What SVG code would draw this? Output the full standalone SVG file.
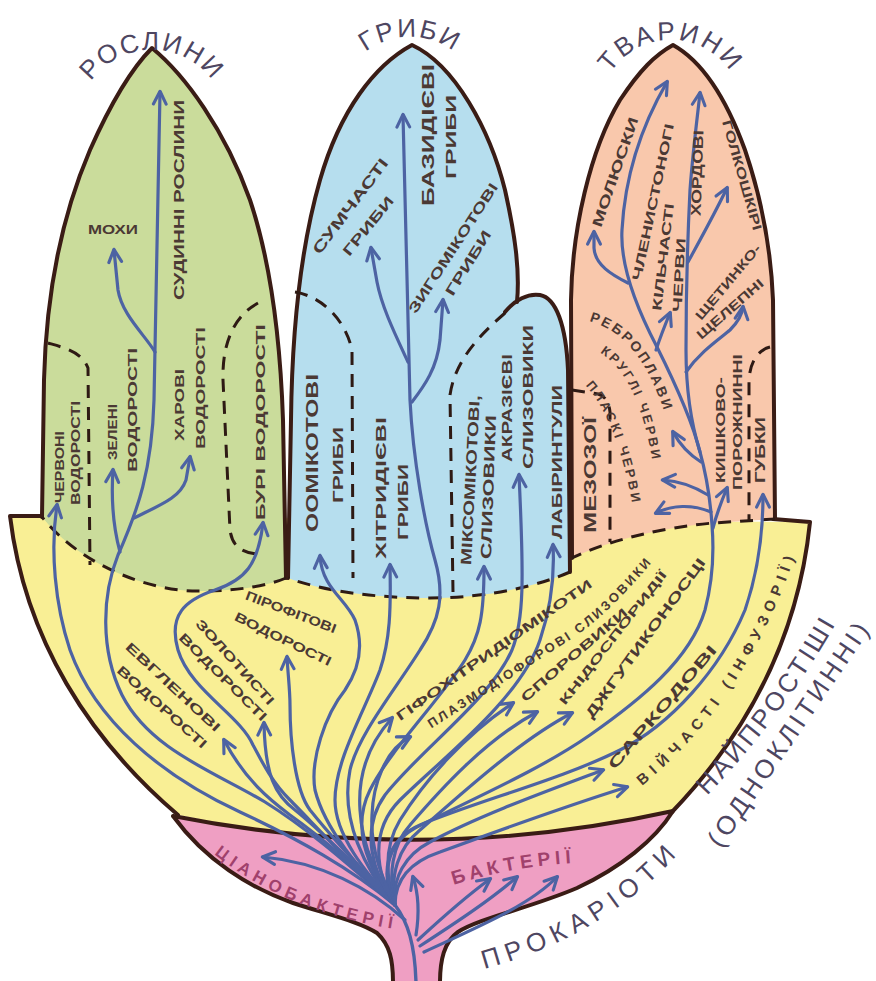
<svg xmlns="http://www.w3.org/2000/svg" width="876" height="981" viewBox="0 0 876 981">
<defs>
<style>
.ol{fill:none;stroke:#3a1c15;stroke-width:4;stroke-linejoin:round;stroke-linecap:round}
.ds{fill:none;stroke:#2e1a14;stroke-width:3;stroke-dasharray:13 9}
.ar{fill:none;stroke:#4d63a3;stroke-width:3.2;stroke-linecap:round;stroke-linejoin:round;marker-end:url(#ah)}
.tr{fill:none;stroke:#4d63a3;stroke-width:3.4;stroke-linecap:round}
.lb{font-family:"Liberation Sans","DejaVu Sans",sans-serif;font-weight:700;fill:#4b3934;text-anchor:middle;dominant-baseline:central}
.ti{font-family:"Liberation Sans","DejaVu Sans",sans-serif;fill:#4e4661;font-size:26px;text-anchor:middle}
.pk{font-family:"Liberation Sans","DejaVu Sans",sans-serif;font-weight:700;fill:#a0416c;text-anchor:middle;dominant-baseline:central}
</style>
<marker id="ah" viewBox="0 0 12 12" refX="10" refY="6" markerWidth="17" markerHeight="17" markerUnits="userSpaceOnUse" orient="auto">
<path d="M1.5,1.5 L10.5,6 L1.5,10.5" fill="none" stroke="#4d63a3" stroke-width="2.2" stroke-linecap="round" stroke-linejoin="round"/>
</marker>
<path id="arcP" d="M77,125 A75,75 0 0 1 227,125"/>
<path id="arcF" d="M337,110 A73,73 0 0 1 483,110"/>
<path id="arcA" d="M599,112 A72,72 0 0 1 743,112"/>
<path id="pPl" d="M418,731 L570,634 Q 612,605 657,548"/>
<path id="pVi" d="M632,786 Q 742,700 793,543"/>
<path id="pNa" d="M688,802 Q 775,716 838,602"/>
<path id="pOd" d="M712,846 L866,620"/>
<path id="pPr" d="M483,960 Q 600,928 673,846"/>
<path id="pCy" d="M220,851 Q 290,906 395,923"/>
<path id="pBa" d="M455,877 Q 510,860 572,856"/>
<path id="pCt" d="M574,314 Q 645,318 674,428"/>
<path id="pRo" d="M588,342 Q 645,360 660,478"/>
<path id="pFl" d="M578,372 Q 622,405 640,520"/>
</defs>

<rect width="876" height="981" fill="#ffffff"/>

<g id="protists-bowl">
<path d="M10,516 L810,522 C 800,620 760,720 672,812 Q 425,866 178,815 C 90,740 25,640 10,516 Z" fill="#f9ef95"/>
<path class="ol" d="M44,516 L10,516 C 25,640 90,740 178,815"/>
<path class="ol" d="M773,519 L810,522 C 800,620 760,720 672,812"/>
</g>

<g id="prokaryotes-base">
<path fill="#ef9fc3" d="M173,816 Q 425,866 673,811 C 655,840 620,868 577,888 C 530,908 480,918 458,932 C 444,942 440,960 440,983 L393,983 C 393,960 390,945 377,933 C 360,922 330,915 293,903 C 250,888 205,860 173,816 Z"/>
<path class="ol" d="M173,816 Q 425,866 673,811 C 655,840 620,868 577,888 C 530,908 480,918 458,932 C 444,942 440,960 440,983 M393,983 C 393,960 390,945 377,933 C 360,922 330,915 293,903 C 250,888 205,860 173,816"/>
</g>

<g id="plants">
<path fill="#cadc9b" d="M42,517 L44,380 C 46,300 60,220 90,150 C 110,105 130,70 152,48 C 185,75 225,130 250,200 C 270,260 280,330 283,420 L286,578 C 270,585 240,591 200,591 C 150,592 80,565 42,517 Z"/>
<path class="ol" d="M42,517 L44,380 C 46,300 60,220 90,150 C 110,105 130,70 152,48 C 185,75 225,130 250,200 C 270,260 280,330 283,420 L286,578"/>
<path class="ds" d="M286,578 C 270,585 240,591 200,591 C 150,592 80,565 42,517"/>
<path class="ds" d="M48,343 C 65,348 82,352 88,368 L90,565"/>
<path class="ds" d="M258,303 C 236,315 222,340 223,380 L230,530 C 232,545 240,552 256,554"/>
<text class="ti"><textPath href="#arcP" startOffset="50%" letter-spacing="2">РОСЛИНИ</textPath></text>
</g>

<g id="fungi">
<path fill="#b6deee" d="M288,578 L291,420 C 292,330 300,250 320,180 C 340,110 375,65 412,45 C 455,65 490,130 505,190 C 515,235 520,270 517,302 C 525,295 532,293 540,295 C 556,298 566,325 568,370 L570,572 C 540,585 490,598 430,598 C 370,598 320,590 288,578 Z"/>
<path class="ol" d="M288,578 L291,420 C 292,330 300,250 320,180 C 340,110 375,65 412,45 C 455,65 490,130 505,190 C 515,235 520,270 517,302"/>
<path class="ol" d="M505,312 C 515,300 528,293 540,295 C 556,298 566,325 568,370 L570,572"/>
<path class="ds" d="M570,572 C 540,585 490,598 430,598 C 370,598 320,590 288,578"/>
<path class="ds" d="M295,292 C 320,296 345,318 352,350 L353,578"/>
<path class="ds" d="M505,313 C 480,335 455,360 450,395 L453,592"/>
<text class="ti"><textPath href="#arcF" startOffset="50%" letter-spacing="2">ГРИБИ</textPath></text>
</g>

<g id="animals">
<path fill="#f9c8ac" d="M572,558 L571,300 C 572,230 590,150 620,100 C 640,70 655,55 673,45 C 700,60 725,95 745,150 C 762,200 771,250 773,300 L775,519 L713,523 C 660,528 610,540 572,558 Z"/>
<path class="ol" d="M572,558 L571,300 C 572,230 590,150 620,100 C 640,70 655,55 673,45 C 700,60 725,95 745,150 C 762,200 771,250 773,300 L775,519"/>
<path class="ds" d="M775,519 L713,523 C 660,528 610,540 572,558"/>
<path class="ds" d="M572,390 L598,394 C 605,396 609,402 610,412 L610,542"/>
<path class="ds" d="M770,347 C 758,350 750,362 749,380 L749,520"/>
<text class="ti"><textPath href="#arcA" startOffset="50%" letter-spacing="3">ТВАРИНИ</textPath></text>
</g>

<g id="connectors">
<path class="tr" d="M416,983 C 415,945 408,922 395,905"/>
<path class="ar" d="M405,920 C 370,888 320,862 263,857"/>
<path class="ar" d="M416,935 C 420,910 418,892 413,877"/>
<path class="ar" d="M418,940 C 445,915 468,895 490,879"/>
<path class="ar" d="M420,946 C 460,920 490,900 517,877"/>
<path class="ar" d="M424,952 C 480,926 530,905 557,877"/>
<path class="ar" d="M395,905 C 350,868 300,840 240,812 C 160,775 95,720 70,650 C 55,605 50,550 57,505"/>
<path class="ar" d="M395,905 C 350,866 310,830 265,802 C 215,772 150,750 122,695 C 100,650 102,595 118,555 C 138,510 152,470 154,400 L160,92"/>
<path class="ar" d="M155,352 C 145,335 122,315 118,290 L114,250"/>
<path class="ar" d="M120,552 C 114,530 111,500 113,470"/>
<path class="ar" d="M134,518 C 160,505 180,498 186,480 L190,457"/>
<path class="ar" d="M395,905 C 352,866 310,820 290,800 C 272,782 262,762 253,745 C 240,715 190,690 178,650 C 168,615 185,600 215,590 C 245,580 258,565 263,523"/>
<path class="ar" d="M395,905 C 355,866 318,835 290,815 C 270,800 245,780 224,740"/>
<path class="ar" d="M395,905 C 355,865 320,830 295,810 C 275,795 265,775 264,723"/>
<path class="ar" d="M395,905 C 360,868 330,835 310,810 C 295,790 290,740 290,705 C 290,690 288,675 287,657"/>
<path class="ar" d="M395,905 C 360,870 325,830 315,790 C 310,760 325,715 345,690 C 362,665 362,640 355,620 C 345,598 322,588 320,556"/>
<path class="ar" d="M395,905 C 365,872 335,835 335,800 C 335,760 365,710 380,670 C 390,640 391,610 390,565"/>
<path class="ar" d="M395,905 C 365,870 340,820 350,770 C 358,735 395,690 420,650 C 440,620 445,595 435,560 C 425,525 413,460 410,400 L403,115"/>
<path class="ar" d="M408,362 C 396,336 382,308 377,282 L371,248"/>
<path class="ar" d="M412,402 C 425,385 437,368 440,340 L443,300"/>
<path class="ar" d="M395,905 C 370,872 350,830 370,790 C 390,750 440,700 465,660 C 480,635 484,615 484,567"/>
<path class="ar" d="M395,905 C 372,872 360,830 385,795 C 420,750 490,700 512,650 C 524,620 524,580 519,475"/>
<path class="ar" d="M395,905 C 375,872 370,830 400,800 C 440,760 520,700 540,640 C 550,610 555,580 553,545"/>
<path class="ar" d="M395,905 C 380,875 385,840 420,825 C 480,800 560,780 620,750 C 670,725 720,670 745,610 C 757,575 763,540 763,495"/>
<path class="ar" d="M395,905 C 382,875 385,845 415,828 C 470,800 540,770 590,735 C 640,700 690,660 705,610 C 713,580 714,550 712,525 C 710,495 705,470 700,452 C 692,420 676,385 657,347 C 635,305 620,265 622,230 C 625,175 642,125 667,82"/>
<path class="ar" d="M628,283 C 612,275 595,265 594,248 L594,232"/>
<path class="ar" d="M656,350 C 660,338 665,325 670,313"/>
<path class="ar" d="M700,452 C 690,420 686,390 686,350 C 686,300 687,250 690,190 C 693,150 697,120 700,93"/>
<path class="ar" d="M688,262 C 700,240 714,215 727,188"/>
<path class="ar" d="M686,372 C 700,352 718,340 730,330 C 738,322 742,315 743,307"/>
<path class="ar" d="M701,462 C 690,455 680,445 673,432"/>
<path class="ar" d="M708,495 C 695,487 680,481 663,480"/>
<path class="ar" d="M711,512 C 692,504 672,505 656,513"/>
<path class="ar" d="M713,528 C 717,512 722,500 727,488"/>
<path class="ar" d="M395,905 C 380,880 362,850 360,810 C 358,780 365,748 392,718"/>
<path class="ar" d="M395,905 C 383,880 370,850 372,815 C 373,785 385,750 410,737"/>
<path class="ar" d="M395,905 C 385,875 385,845 400,820 C 425,780 465,735 513,703"/>
<path class="ar" d="M395,905 C 388,875 392,845 410,825 C 440,790 485,740 537,712"/>
<path class="ar" d="M395,905 C 390,875 398,848 420,830 C 460,795 520,740 572,713"/>
<path class="ar" d="M395,905 C 392,878 405,855 430,842 C 480,815 550,790 603,770"/>
<path class="ar" d="M395,905 C 395,880 410,862 440,852 C 500,830 570,805 627,787"/>
</g>

<g id="n-mosses"><text class="lb" font-size="12" transform="translate(113,230)" textLength="50" lengthAdjust="spacingAndGlyphs">МОХИ</text></g>
<g id="n-vascular"><text class="lb" font-size="14" transform="translate(179,200) rotate(-90)" textLength="200" lengthAdjust="spacingAndGlyphs">СУДИННІ РОСЛИНИ</text></g>
<g id="n-red-algae">
<text class="lb" font-size="12" transform="translate(60,467) rotate(-90)" textLength="72" lengthAdjust="spacingAndGlyphs">ЧЕРВОНІ</text>
<text class="lb" font-size="12" transform="translate(76,453) rotate(-90)" textLength="104" lengthAdjust="spacingAndGlyphs">ВОДОРОСТІ</text>
</g>
<g id="n-green-algae">
<text class="lb" font-size="12" transform="translate(113,432) rotate(-90)" textLength="56" lengthAdjust="spacingAndGlyphs">ЗЕЛЕНІ</text>
<text class="lb" font-size="13" transform="translate(132,410) rotate(-90)" textLength="124" lengthAdjust="spacingAndGlyphs">ВОДОРОСТІ</text>
</g>
<g id="n-charophytes">
<text class="lb" font-size="12" transform="translate(180,405) rotate(-90)" textLength="72" lengthAdjust="spacingAndGlyphs">ХАРОВІ</text>
<text class="lb" font-size="13" transform="translate(200,388) rotate(-90)" textLength="122" lengthAdjust="spacingAndGlyphs">ВОДОРОСТІ</text>
</g>
<g id="n-brown-algae"><text class="lb" font-size="13" transform="translate(260,422) rotate(-90)" textLength="196" lengthAdjust="spacingAndGlyphs">БУРІ ВОДОРОСТІ</text></g>

<g id="n-ascomycetes">
<text class="lb" font-size="15" transform="translate(350,206) rotate(-53)" textLength="115" lengthAdjust="spacingAndGlyphs">СУМЧАСТІ</text>
<text class="lb" font-size="14" transform="translate(368,226) rotate(-51)" textLength="72" lengthAdjust="spacingAndGlyphs">ГРИБИ</text>
</g>
<g id="n-basidiomycetes">
<text class="lb" font-size="16" transform="translate(428,135) rotate(-90)" textLength="142" lengthAdjust="spacingAndGlyphs">БАЗИДІЄВІ</text>
<text class="lb" font-size="15" transform="translate(450,137) rotate(-90)" textLength="84" lengthAdjust="spacingAndGlyphs">ГРИБИ</text>
</g>
<g id="n-zygomycetes">
<text class="lb" font-size="14" transform="translate(453,248) rotate(-57)" textLength="152" lengthAdjust="spacingAndGlyphs">ЗИГОМІКОТОВІ</text>
<text class="lb" font-size="14" transform="translate(468,263) rotate(-58)" textLength="74" lengthAdjust="spacingAndGlyphs">ГРИБИ</text>
</g>
<g id="n-oomycetes">
<text class="lb" font-size="16" transform="translate(312,453) rotate(-90)" textLength="158" lengthAdjust="spacingAndGlyphs">ООМІКОТОВІ</text>
<text class="lb" font-size="15" transform="translate(337,465) rotate(-90)" textLength="76" lengthAdjust="spacingAndGlyphs">ГРИБИ</text>
</g>
<g id="n-chytrids">
<text class="lb" font-size="15" transform="translate(380,488) rotate(-90)" textLength="142" lengthAdjust="spacingAndGlyphs">ХІТРИДІЄВІ</text>
<text class="lb" font-size="15" transform="translate(402,502) rotate(-90)" textLength="76" lengthAdjust="spacingAndGlyphs">ГРИБИ</text>
</g>
<g id="n-myxomycetes">
<text class="lb" font-size="15" transform="translate(470,480) rotate(-87)" textLength="170" lengthAdjust="spacingAndGlyphs">МІКСОМІКОТОВІ,</text>
<text class="lb" font-size="15" transform="translate(488,487) rotate(-88)" textLength="144" lengthAdjust="spacingAndGlyphs">СЛИЗОВИКИ</text>
</g>
<g id="n-acrasids">
<text class="lb" font-size="14" transform="translate(507,408) rotate(-90)" textLength="108" lengthAdjust="spacingAndGlyphs">АКРАЗІЄВІ</text>
<text class="lb" font-size="15" transform="translate(527,397) rotate(-90)" textLength="144" lengthAdjust="spacingAndGlyphs">СЛИЗОВИКИ</text>
</g>
<g id="n-labyrinthulids"><text class="lb" font-size="14" transform="translate(557,462) rotate(-90)" textLength="154" lengthAdjust="spacingAndGlyphs">ЛАБІРИНТУЛИ</text></g>

<g id="n-molluscs"><text class="lb" font-size="14" transform="translate(615,172) rotate(-71)" textLength="115" lengthAdjust="spacingAndGlyphs">МОЛЮСКИ</text></g>
<g id="n-arthropods"><text class="lb" font-size="13" transform="translate(653,202) rotate(-78)" textLength="160" lengthAdjust="spacingAndGlyphs">ЧЛЕНИСТОНОГІ</text></g>
<g id="n-annelids">
<text class="lb" font-size="13" transform="translate(663,257) rotate(-83)" textLength="108" lengthAdjust="spacingAndGlyphs">КІЛЬЧАСТІ</text>
<text class="lb" font-size="13" transform="translate(679,275) rotate(-87)" textLength="74" lengthAdjust="spacingAndGlyphs">ЧЕРВИ</text>
</g>
<g id="n-chordates"><text class="lb" font-size="14" transform="translate(697,173) rotate(-88)" textLength="86" lengthAdjust="spacingAndGlyphs">ХОРДОВІ</text></g>
<g id="n-echinoderms"><text class="lb" font-size="13" transform="translate(742,175) rotate(74)" textLength="114" lengthAdjust="spacingAndGlyphs">ГОЛКОШКІРІ</text></g>
<g id="n-chaetognaths">
<text class="lb" font-size="13" transform="translate(728,282) rotate(-50)" textLength="94" lengthAdjust="spacingAndGlyphs">ЩЕТИНКО-</text>
<text class="lb" font-size="13" transform="translate(730,309) rotate(-41)" textLength="84" lengthAdjust="spacingAndGlyphs">ЩЕЛЕПНІ</text>
</g>
<g id="n-ctenophores"><text class="lb" font-size="14" letter-spacing="3"><textPath href="#pCt" startOffset="50%">РЕБРОПЛАВИ</textPath></text></g>
<g id="n-roundworms"><text class="lb" font-size="13" letter-spacing="3"><textPath href="#pRo" startOffset="50%">КРУГЛІ ЧЕРВИ</textPath></text></g>
<g id="n-flatworms"><text class="lb" font-size="13" letter-spacing="3"><textPath href="#pFl" startOffset="50%">ПЛАСКІ ЧЕРВИ</textPath></text></g>
<g id="n-mesozoa"><text class="lb" font-size="16" transform="translate(590,475) rotate(-90)" textLength="116" lengthAdjust="spacingAndGlyphs">МЕЗОЗОЇ</text></g>
<g id="n-cnidarians">
<text class="lb" font-size="13" transform="translate(720,430) rotate(-90)" textLength="106" lengthAdjust="spacingAndGlyphs">КИШКОВО-</text>
<text class="lb" font-size="13" transform="translate(737,422) rotate(-90)" textLength="136" lengthAdjust="spacingAndGlyphs">ПОРОЖНИННІ</text>
</g>
<g id="n-sponges"><text class="lb" font-size="14" transform="translate(760,450) rotate(-90)" textLength="66" lengthAdjust="spacingAndGlyphs">ГУБКИ</text></g>

<g id="n-dinoflagellates">
<text class="lb" font-size="13" transform="translate(291,612) rotate(21)" textLength="96" lengthAdjust="spacingAndGlyphs">ПІРОФІТОВІ</text>
<text class="lb" font-size="13" transform="translate(283,639) rotate(26)" textLength="106" lengthAdjust="spacingAndGlyphs">ВОДОРОСТІ</text>
</g>
<g id="n-golden-algae">
<text class="lb" font-size="13" transform="translate(235,662) rotate(48)" textLength="110" lengthAdjust="spacingAndGlyphs">ЗОЛОТИСТІ</text>
<text class="lb" font-size="13" transform="translate(223,677) rotate(45)" textLength="118" lengthAdjust="spacingAndGlyphs">ВОДОРОСТІ</text>
</g>
<g id="n-euglenids">
<text class="lb" font-size="13" transform="translate(173,687) rotate(43)" textLength="124" lengthAdjust="spacingAndGlyphs">ЕВГЛЕНОВІ</text>
<text class="lb" font-size="13" transform="translate(162,707) rotate(42)" textLength="116" lengthAdjust="spacingAndGlyphs">ВОДОРОСТІ</text>
</g>
<g id="n-hyphochytrids"><text class="lb" font-size="13" transform="translate(494,650) rotate(-35)" textLength="236" lengthAdjust="spacingAndGlyphs">ГІФОХІТРИДІОМІКОТИ</text></g>
<g id="n-plasmodiophorids"><text class="lb" font-size="13" letter-spacing="2.4"><textPath href="#pPl" startOffset="50%">ПЛАЗМОДІОФОРОВІ СЛИЗОВИКИ</textPath></text></g>
<g id="n-sporozoa"><text class="lb" font-size="13" transform="translate(574,655) rotate(-40.7)" textLength="136" lengthAdjust="spacingAndGlyphs">СПОРОВИКИ</text></g>
<g id="n-cnidosporidia"><text class="lb" font-size="12" transform="translate(613,638) rotate(-52)" textLength="166" lengthAdjust="spacingAndGlyphs">КНІДОСПОРИДІЇ</text></g>
<g id="n-flagellates"><text class="lb" font-size="14" transform="translate(645,638) rotate(-54)" textLength="194" lengthAdjust="spacingAndGlyphs">ДЖГУТИКОНОСЦІ</text></g>
<g id="n-sarcodines"><text class="lb" font-size="15" transform="translate(662,707) rotate(-49.4)" textLength="158" lengthAdjust="spacingAndGlyphs">САРКОДОВІ</text></g>
<g id="n-ciliates"><text class="lb" font-size="15" letter-spacing="6"><textPath href="#pVi" startOffset="50%">ВІЙЧАСТІ (ІНФУЗОРІЇ)</textPath></text></g>

<g id="n-cyanobacteria"><text class="pk" font-size="17" letter-spacing="5"><textPath href="#pCy" startOffset="50%">ЦІАНОБАКТЕРІЇ</textPath></text></g>
<g id="n-bacteria"><text class="pk" font-size="19" letter-spacing="5"><textPath href="#pBa" startOffset="50%">БАКТЕРІЇ</textPath></text></g>

<g id="n-protozoa-title">
<text class="ti" font-size="30" dominant-baseline="central" letter-spacing="3"><textPath href="#pNa" startOffset="50%">НАЙПРОСТІШІ</textPath></text>
<text class="ti" font-size="26" dominant-baseline="central" letter-spacing="4"><textPath href="#pOd" startOffset="50%">(ОДНОКЛІТИННІ)</textPath></text>
</g>
<g id="n-prokaryotes-title"><text class="ti" font-size="28" dominant-baseline="central" letter-spacing="6"><textPath href="#pPr" startOffset="50%">ПРОКАРІОТИ</textPath></text></g>
</svg>
